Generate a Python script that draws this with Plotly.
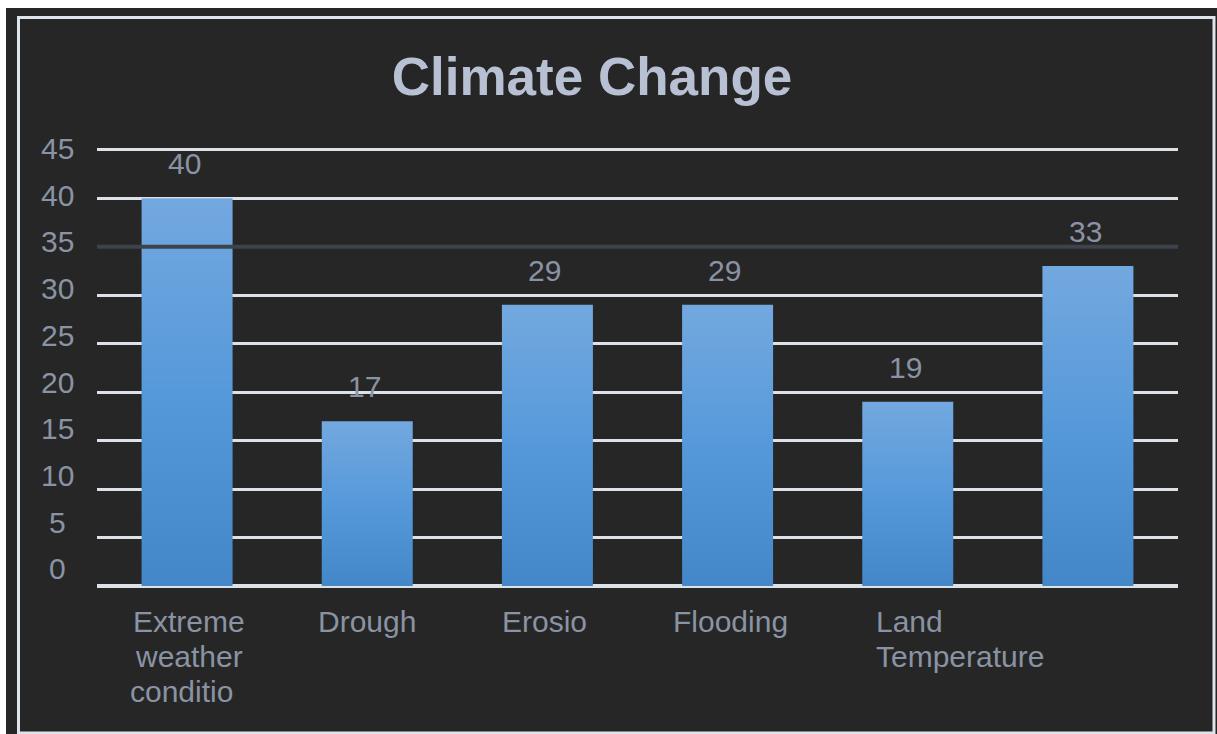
import plotly.graph_objects as go

# Chart data
categories = ["Extreme<br>weather<br>conditio", "Drough", "Erosio", "Flooding", "Land<br>Temperature", ""]
values = [40, 17, 29, 29, 19, 33]
y_ticks = [0, 5, 10, 15, 20, 25, 30, 35, 40, 45]

W, H = 1217, 734
L, R, T, B = 97, 1178, 140, 586  # plot area in pixels
Y_MAX = 46

BG = "#262626"
GRID = "#dde1e8"
TXT = "#8a93a3"
FONT = "Liberation Sans, Arial, sans-serif"
FS = 30


def px_x(p):
    return (p - L) / (R - L)


def px_y(p):
    return (B - p) / (B - T)


fig = go.Figure()

half = 0.2525
for i, (cat, v) in enumerate(zip(categories, values)):
    fig.add_trace(go.Scatter(
        x=[i - half, i + half, i + half, i - half, i - half],
        y=[0, 0, v, v, 0],
        mode="lines",
        fill="toself",
        line=dict(width=0, color="rgba(0,0,0,0)"),
        fillgradient=dict(
            type="vertical",
            colorscale=[[0, "#4487c8"], [0.5, "#5699da"], [1, "#73a8df"]],
        ),
        hoverinfo="skip",
        showlegend=False,
    ))

annotations = []

# value labels above each bar
for i, v in enumerate(values):
    annotations.append(dict(
        x=i - 0.015, y=v, xref="x", yref="y", text=str(v), showarrow=False,
        yanchor="bottom", yshift=16, font=dict(family=FONT, size=FS, color=TXT),
    ))

# category labels under the axis, one annotation per text line
label_shift = [2, 0, -3, 3, -34, 0]
LINE_GAP = 35
for i, cat in enumerate(categories):
    left = i == 4
    for k, line in enumerate(cat.split("<br>")):
        if not line:
            continue
        annotations.append(dict(
            x=i, y=px_y(603 + k * LINE_GAP), xref="x", yref="paper", text=line,
            showarrow=False, xanchor="left" if left else "center", yanchor="top",
            xshift=label_shift[i] - (8 if (i == 0 and k == 2) else 0),
            font=dict(family=FONT, size=FS, color=TXT),
        ))

# y-axis labels
for v in y_ticks:
    annotations.append(dict(
        x=px_x(57), y=px_y(148.5 + (45 - v) / 5 * 46.7), xref="paper", yref="paper",
        text=str(v), showarrow=False, xanchor="center", yanchor="middle",
        font=dict(family=FONT, size=FS, color=TXT),
    ))

shapes = [
    # white strips along the top-left edges
    dict(type="rect", xref="paper", yref="paper", x0=px_x(-5), x1=px_x(6),
         y0=px_y(740), y1=px_y(-5), fillcolor="white", line=dict(width=0), layer="above"),
    dict(type="rect", xref="paper", yref="paper", x0=px_x(-5), x1=px_x(1222),
         y0=px_y(8), y1=px_y(-5), fillcolor="white", line=dict(width=0), layer="above"),
    # light frame around the chart
    dict(type="rect", xref="paper", yref="paper", x0=px_x(18.5), x1=px_x(1214),
         y0=px_y(733), y1=px_y(17.5), line=dict(width=3, color="#dfe3ea"), layer="above"),
    # dark line at 35 drawn over the bars
    dict(type="line", xref="paper", yref="y", x0=0, x1=1, y0=35, y1=35,
         line=dict(width=4, color="#3d434d"), layer="above"),
]

fig.update_layout(
    width=W, height=H,
    margin=dict(l=L, r=W - R, t=T, b=H - B, pad=0),
    paper_bgcolor=BG, plot_bgcolor=BG,
    title=dict(
        text="<b>Climate Change</b>", x=592 / W, xanchor="center", xref="container",
        y=1 - 76 / H, yanchor="middle", yref="container",
        font=dict(family=FONT, size=53, color="#b8c1d3"),
    ),
    xaxis=dict(range=[-0.5, len(categories) - 0.5], showgrid=False, zeroline=False,
               showticklabels=False, showline=False, fixedrange=True),
    yaxis=dict(range=[0, Y_MAX], tickvals=y_ticks, showticklabels=False, gridcolor=GRID,
               gridwidth=3, zeroline=True, zerolinecolor=GRID, zerolinewidth=4,
               showline=False, fixedrange=True),
    annotations=annotations,
    shapes=shapes,
)

fig.write_html("out.html")
